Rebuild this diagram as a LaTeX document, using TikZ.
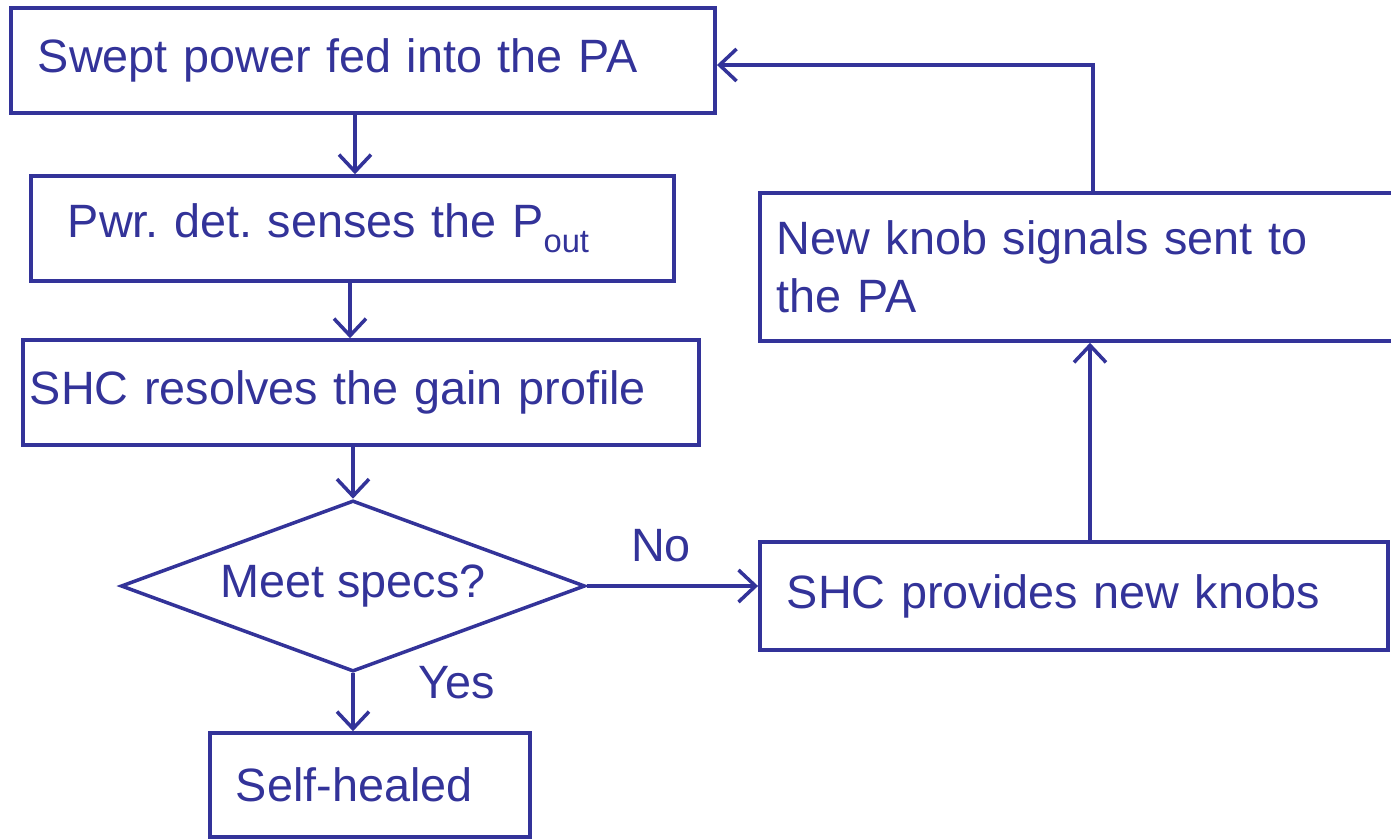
\documentclass[tikz,border=0pt]{standalone}
\usepackage{fontspec}
\setmainfont{Liberation Sans}
\usetikzlibrary{shapes.geometric,arrows.meta}
\definecolor{flowblue}{RGB}{51,51,153}
\frenchspacing
\tikzset{
  stepbox/.style={draw=flowblue, line width=1pt, rectangle, align=left,
    text=flowblue, inner ysep=0pt, minimum height=1.05cm},
  decide/.style={draw=flowblue, line width=1pt, diamond, aspect=2.71, inner sep=0pt,
    text=flowblue, minimum width=4.64cm, minimum height=1.71cm},
  flowarrow/.style={draw=flowblue, line width=1pt,
    -{Straight Barb[length=0.17cm,width=0.32cm,line width=1pt]}},
  tag/.style={text=flowblue, inner sep=0pt}
}
\begin{document}
\begin{tikzpicture}[x=0.01cm, y=-0.01cm, font=\fontsize{13.3}{16.5}\selectfont]
                \useasboundingbox (0,0) rectangle (1391,839);
                \clip (0,0) rectangle (1391,839);
                % left column
                \node[stepbox, text width=6.5cm, inner xsep=0.27cm] (sweep) at (363,60.5)
                  {Swept power fed into the PA};
                \node[stepbox, text width=5.69cm, inner xsep=0.37cm] (detect) at (352.5,228.5)
                  {Pwr. det. senses the P\raisebox{-0.3ex}{\textsubscript{out}}};
                \node[stepbox, text width=6.62cm, inner xsep=0.07cm] (resolve) at (361,392.5)
                  {SHC resolves the gain profile};
                \node[decide] (spec) at (353,586) {Meet specs?};
                \node[stepbox, text width=2.68cm, inner xsep=0.26cm, minimum height=1.04cm] (healed) at (370,785)
                  {Self-healed};
                % right column
                \node[stepbox, text width=5.74cm, inner xsep=0.27cm, minimum height=1.08cm] (provide) at (1074,596)
                  {SHC provides new knobs};
                \node[stepbox, text width=6.06cm, inner xsep=0.17cm, minimum height=1.48cm] (knob) at (1080,267)
                  {New knob signals sent to\\the PA};
                % labels
                \node[tag] (no) at (661,546) {No};
                \node[tag] (yes) at (457,683) {Yes};
                % connectors
                \draw[flowarrow] (sweep.south -| 355,0) -- (detect.north -| 355,0);
                \draw[flowarrow] (detect.south -| 350,0) -- (resolve.north -| 350,0);
                \draw[flowarrow] (resolve.south -| spec.north) -- (spec.north);
                \draw[flowarrow] (spec.south) -- (healed.north -| spec.south);
                \draw[flowarrow] (spec.east) -- (provide.west |- spec.east);
                \draw[flowarrow] (provide.north -| 1090,0) -- (knob.south -| 1090,0);
                \draw[flowarrow] (knob.north -| 1093,0) |- (sweep.east |- 0,65);
\end{tikzpicture}
\end{document}
